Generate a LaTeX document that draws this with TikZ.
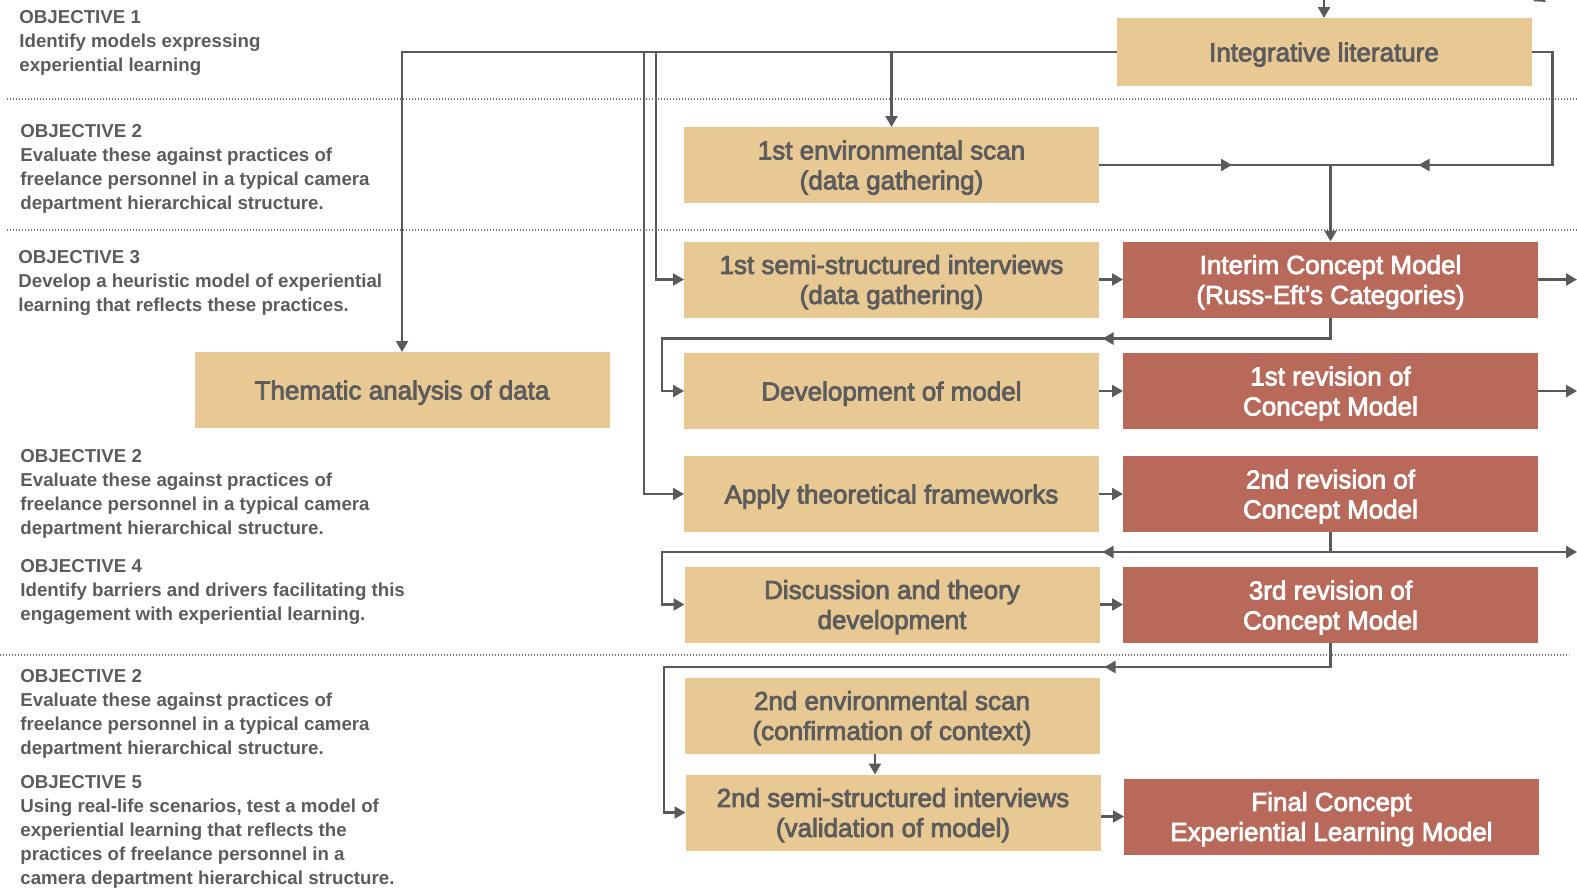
\documentclass[tikz,border=0pt]{standalone}
\usepackage{fontspec}
\setmainfont{Liberation Sans}
\usetikzlibrary{arrows.meta,decorations.markings,calc}
\definecolor{tan}{HTML}{E8C893}
\definecolor{brick}{HTML}{B8695A}
\definecolor{ink}{HTML}{5C5C5C}
\definecolor{wirec}{HTML}{5A5A5A}
\definecolor{dotc}{HTML}{777777}
% slightly heavier glyphs for the box captions (fill + thin outline)
\newcommand\heavyon{\special{pdf:literal direct 2 Tr 0.4 w}}
\newcommand\heavyoff{\special{pdf:literal direct 0 Tr}}

\begin{document}
\begin{tikzpicture}[x=0.5pt,y=-0.5pt,
  stage/.style={fill=tan, text=ink, minimum width=207.5pt, minimum height=38pt,
    inner sep=0pt, outer sep=0pt, align=center, text depth=0pt,
    font=\fontsize{13}{15}\selectfont,
    execute at begin node=\heavyon, execute at end node=\heavyoff},
  result/.style={stage, fill=brick, text=white},
  wire/.style={draw=wirec, line width=1.2pt},
  arr/.style={wire, -{Triangle[length=5.5pt,width=6pt]}},
  midarrow/.style={postaction={decorate}, decoration={markings,
    mark=at position #1 with {\arrow[wirec]{Triangle[length=5.5pt,width=6pt]}}}},
  objtext/.style={anchor=north west, inner sep=0pt, align=left, text=ink,
    font=\bfseries\fontsize{9.35}{12}\selectfont},
  divider/.style={draw=dotc, line width=0.6pt, dash pattern=on 0.6pt off 0.9pt},
]
\useasboundingbox (0,0) rectangle (1577,890);
\clip (0,0) rectangle (1577,890);

% section dividers
\draw[divider] (7,99) -- (1577,99);
\draw[divider] (7,230) -- (1577,230);
\draw[divider] (0,655) -- (1569,655);

% objectives column
\node[objtext] (o1) at (19,10) {OBJECTIVE 1\\Identify models expressing\\experiential learning};
\node[objtext] (o2a) at (20,124) {OBJECTIVE 2\\Evaluate these against practices of\\freelance personnel in a typical camera\\department hierarchical structure.};
\node[objtext] (o3) at (18,250) {OBJECTIVE 3\\Develop a heuristic model of experiential\\learning that reflects these practices.};
\node[objtext] (o2b) at (20,449) {OBJECTIVE 2\\Evaluate these against practices of\\freelance personnel in a typical camera\\department hierarchical structure.};
\node[objtext] (o4) at (20,559) {OBJECTIVE 4\\Identify barriers and drivers facilitating this\\engagement with experiential learning.};
\node[objtext] (o2c) at (20,669) {OBJECTIVE 2\\Evaluate these against practices of\\freelance personnel in a typical camera\\department hierarchical structure.};
\node[objtext] (o5) at (20,775) {OBJECTIVE 5\\Using real-life scenarios, test a model of\\experiential learning that reflects the\\practices of freelance personnel in a\\camera department hierarchical structure.};

% process stages
\node[stage, minimum height=34pt] (lit) at (1324,52) {Integrative literature};
\node[stage] (env1) at (891.5,165) {1st environmental scan\\(data gathering)};
\node[stage] (semi1) at (891.5,279.5) {1st semi-structured interviews\\(data gathering)};
\node[stage] (them) at (402,390) {Thematic analysis of data};
\node[stage] (dev) at (891.5,391) {Development of model};
\node[stage] (apply) at (891.5,494) {Apply theoretical frameworks};
\node[stage] (disc) at (892,604.5) {Discussion and theory\\development};
\node[stage] (env2) at (892,715.5) {2nd environmental scan\\(confirmation of context)};
\node[stage] (semi2) at (893,812.5) {2nd semi-structured interviews\\(validation of model)};

% concept model versions
\node[result] (interim) at (1330.5,279.5) {Interim Concept Model\\(Russ-Eft’s Categories)};
\node[result] (rev1) at (1330.5,391) {1st revision of\\Concept Model};
\node[result] (rev2) at (1330.5,494) {2nd revision of\\Concept Model};
\node[result] (rev3) at (1330.5,605) {3rd revision of\\Concept Model};
\node[result] (final) at (1331.5,816.5) {Final Concept\\Experiential Learning Model};

% helper points
\coordinate (edge) at (1577,0);
\coordinate (topin) at (1324,-2);
\coordinate (bA) at (644,52);
\coordinate (bB) at (656,52);
\coordinate (jn) at (interim.north |- env1.east);
\coordinate (split) at (1330.5,552);
\coordinate (corner) at (1522,-14);
\coordinate (cornertip) at (1546,2);

% connectors from the literature review
\draw[arr] (topin) -- (lit.north);
\draw[arr] (corner) -- (cornertip);
\draw[arr] (lit.west) -| (them.north);
\draw[arr] (env1.north |- lit.west) -- (env1.north);
\draw[arr] (bA) |- (apply.west);
\draw[arr] (bB) |- (semi1.west);
\draw[wire, midarrow=134pt] (lit.east) -- ++(21,0) |- (jn);
\draw[wire, midarrow=66.5pt] (env1.east) -- (jn);
\draw[arr] (jn) -- (interim.north);

% main flow
\draw[arr] (semi1.east) -- (interim.west);
\draw[arr] (interim.east) -- (interim.east -| edge);
\draw[arr, midarrow=124.5pt] (interim.south) -- ++(0,21) -| ++(-668.5,52) |- (dev.west);
\draw[arr] (dev.east) -- (rev1.west);
\draw[arr] (rev1.east) -- (rev1.east -| edge);
\draw[arr] (apply.east) -- (rev2.west);
\draw[wire] (rev2.south) -- (split);
\draw[arr, midarrow=114pt] (split) -- (split -| 662,0) |- (disc.west);
\draw[arr] (split) -- (split -| edge);
\draw[arr] (disc.east) -- (disc.east -| rev3.west);
\draw[arr, midarrow=125pt] (rev3.south) -- ++(0,24) -| ++(-666.5,145) |- (semi2.west);
\draw[arr] ([xshift=-8.5pt]env2.south) -- ([xshift=-8.5pt]env2.south |- semi2.north);
\draw[arr] (semi2.east |- final.west) -- (final.west);
\end{tikzpicture}
\end{document}
